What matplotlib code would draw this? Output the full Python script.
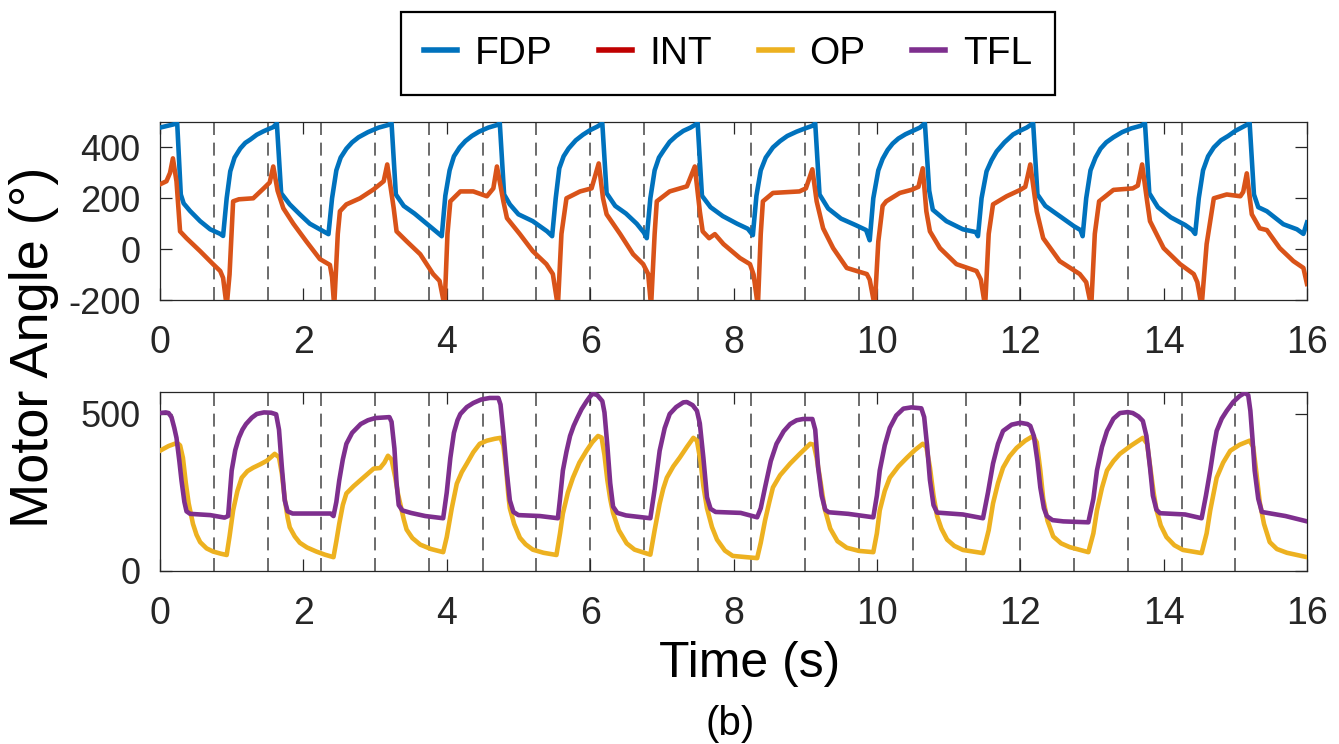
import matplotlib
matplotlib.use('Agg')
import matplotlib.pyplot as plt
from matplotlib.lines import Line2D

plt.rcParams['font.family'] = ['Liberation Sans', 'DejaVu Sans']
plt.rcParams['axes.unicode_minus'] = False

# ---------------- data ----------------
fdp_t = [0.00, 0.18, 0.24, 0.29, 0.33, 0.42, 0.56, 0.70, 0.84, 0.88,
         0.93, 0.98, 1.04, 1.12, 1.19, 1.26, 1.35, 1.44, 1.52, 1.58, 1.63,
         1.69, 1.81, 1.95, 2.09, 2.23, 2.35,
         2.40, 2.46, 2.52, 2.60, 2.68, 2.77, 2.90, 3.05, 3.18, 3.23,
         3.29, 3.40, 3.55, 3.70, 3.85, 3.93,
         3.98, 4.04, 4.10, 4.18, 4.26, 4.35, 4.45, 4.58, 4.70, 4.74,
         4.80, 4.88, 5.00, 5.20, 5.40, 5.47,
         5.52, 5.57, 5.63, 5.70, 5.80, 5.90, 6.00, 6.10, 6.17,
         6.23, 6.35, 6.50, 6.65, 6.75, 6.79,
         6.84, 6.90, 6.96, 7.03, 7.11, 7.20, 7.30, 7.40, 7.50,
         7.56, 7.68, 7.85, 8.05, 8.20, 8.27,
         8.32, 8.38, 8.45, 8.55, 8.65, 8.75, 8.88, 9.00, 9.10, 9.14,
         9.20, 9.32, 9.50, 9.70, 9.85, 9.90,
         9.95, 10.02, 10.08, 10.15, 10.22, 10.30, 10.40, 10.50, 10.60, 10.67,
         10.73, 10.78, 10.97, 11.20, 11.38, 11.41,
         11.46, 11.53, 11.60, 11.67, 11.78, 11.90, 12.00, 12.09, 12.18,
         12.24, 12.35, 12.55, 12.75, 12.84, 12.87,
         12.92, 12.98, 13.05, 13.12, 13.20, 13.30, 13.42, 13.55, 13.68, 13.74,
         13.80, 13.92, 14.10, 14.30, 14.40, 14.44,
         14.49, 14.55, 14.62, 14.70, 14.80, 14.90, 15.00, 15.10, 15.20,
         15.26, 15.32, 15.44, 15.67, 15.86, 15.95, 16.00]
fdp_v = [478, 490, 495, 215, 180, 150, 110, 78, 60, 52,
         200, 306, 360, 396, 418, 431, 450, 463, 473, 480, 495,
         220, 176, 137, 100, 78, 59,
         200, 310, 360, 395, 420, 440, 460, 478, 488, 495,
         215, 170, 140, 105, 70, 51,
         210, 310, 365, 400, 425, 445, 462, 478, 488, 495,
         215, 176, 137, 110, 70, 51,
         200, 318, 365, 396, 428, 450, 468, 482, 495,
         220, 170, 140, 100, 65, 43,
         200, 310, 360, 390, 422, 445, 465, 478, 495,
         210, 165, 130, 100, 80, 55,
         210, 310, 360, 400, 425, 445, 462, 475, 485, 495,
         215, 160, 120, 95, 75, 35,
         200, 310, 355, 390, 415, 435, 452, 465, 478, 495,
         230, 155, 110, 78, 67, 51,
         200, 306, 350, 384, 420, 451, 466, 478, 495,
         215, 170, 130, 90, 75, 51,
         200, 310, 360, 395, 420, 440, 460, 475, 485, 495,
         220, 165, 125, 95, 75, 60,
         200, 310, 365, 400, 428, 445, 465, 480, 495,
         215, 165, 149, 98, 78, 60, 105]

int_t = [0.00, 0.09, 0.14, 0.18, 0.23, 0.28, 0.37, 0.56, 0.74, 0.84, 0.88, 0.93, 0.97,
         1.02, 1.10, 1.30, 1.45, 1.53, 1.58, 1.64, 1.72, 1.86, 2.04, 2.23, 2.37, 2.40, 2.43,
         2.48, 2.51, 2.60, 2.79, 2.98, 3.12, 3.17, 3.26, 3.30, 3.44, 3.63, 3.81, 3.90, 3.97,
         4.01, 4.05, 4.19, 4.37, 4.56, 4.65, 4.70, 4.79, 4.84, 5.02, 5.20, 5.39, 5.48, 5.55,
         5.60, 5.67, 5.86, 6.02, 6.12, 6.18, 6.23, 6.42, 6.60, 6.74, 6.81, 6.85,
         6.90, 6.93, 7.11, 7.35, 7.46, 7.53, 7.57, 7.66, 7.74, 7.86, 8.09, 8.23, 8.28, 8.34,
         8.38, 8.41, 8.55, 8.92, 9.01, 9.10, 9.16, 9.25, 9.39, 9.58, 9.86, 9.90, 9.97,
         10.02, 10.08, 10.13, 10.32, 10.48, 10.58, 10.64, 10.69, 10.74, 10.88, 11.11, 11.39, 11.45, 11.51,
         11.56, 11.62, 11.81, 12.00, 12.07, 12.14, 12.23, 12.32, 12.55, 12.83, 12.92, 12.99,
         13.04, 13.10, 13.30, 13.57, 13.64, 13.70, 13.77, 13.81, 14.00, 14.23, 14.42, 14.47, 14.53,
         14.60, 14.65, 14.70, 14.88, 15.07, 15.11, 15.16, 15.23, 15.34, 15.44, 15.62, 15.81, 15.95, 16.00]
int_v = [255, 267, 300, 357, 267, 70, 43, -8, -59, -86, -113, -225, -100,
         188, 196, 200, 240, 262, 325, 230, 161, 100, 31, -39, -62, -110, -225,
         60, 149, 176, 200, 235, 267, 333, 161, 70, 31, -20, -98, -125, -225,
         60, 188, 227, 227, 208, 239, 325, 188, 122, 59, -8, -59, -98, -225,
         60, 200, 227, 239, 337, 200, 137, 59, -20, -59, -98, -225,
         60, 188, 227, 247, 325, 149, 70, 43, 59, 20, -35, -59, -100, -225,
         60, 188, 221, 227, 239, 314, 188, 82, 4, -74, -98, -120, -225,
         30, 170, 188, 221, 233, 245, 318, 149, 70, 4, -59, -86, -120, -225,
         60, 176, 208, 233, 245, 333, 149, 43, -47, -98, -130, -225,
         60, 188, 233, 239, 250, 333, 188, 110, 4, -59, -98, -130, -225,
         20, 110, 200, 215, 208, 225, 298, 137, 82, 75, 4, -47, -74, -137]

op_t = [0.00, 0.12, 0.24, 0.28, 0.32, 0.36, 0.40, 0.46, 0.51, 0.56, 0.65, 0.74, 0.85, 0.93,
        0.97, 1.02, 1.08, 1.14, 1.22, 1.30, 1.40, 1.49, 1.60, 1.66, 1.70, 1.74, 1.78, 1.81,
        1.88, 1.95, 2.05, 2.18, 2.30, 2.42,
        2.46, 2.50, 2.55, 2.60, 2.70, 2.79, 2.90, 2.98, 3.07, 3.13, 3.18, 3.23, 3.28, 3.32,
        3.35, 3.40, 3.44, 3.52, 3.63, 3.78, 3.95,
        4.00, 4.07, 4.14, 4.21, 4.28, 4.37, 4.46, 4.56, 4.67, 4.75, 4.79, 4.83, 4.86, 4.88,
        4.94, 5.02, 5.10, 5.20, 5.35, 5.53,
        5.58, 5.62, 5.69, 5.76, 5.85, 5.95, 6.03, 6.11, 6.16, 6.20, 6.24, 6.28, 6.32,
        6.40, 6.51, 6.62, 6.84,
        6.90, 6.97, 7.02, 7.07, 7.16, 7.25, 7.35, 7.44, 7.49, 7.54, 7.58, 7.63,
        7.70, 7.77, 7.88, 7.99, 8.33,
        8.38, 8.44, 8.50, 8.55, 8.65, 8.79, 8.92, 9.07, 9.12, 9.16, 9.21, 9.27,
        9.35, 9.45, 9.58, 9.75, 9.95,
        10.00, 10.04, 10.11, 10.18, 10.30, 10.42, 10.53, 10.64, 10.69, 10.74, 10.79, 10.84,
        10.90, 10.98, 11.08, 11.20, 11.48,
        11.56, 11.62, 11.69, 11.76, 11.85, 11.95, 12.07, 12.18, 12.23, 12.28, 12.32,
        12.38, 12.46, 12.57, 12.69, 12.95,
        13.02, 13.07, 13.14, 13.21, 13.30, 13.39, 13.55, 13.71, 13.77, 13.82, 13.86, 13.90,
        13.96, 14.04, 14.15, 14.27, 14.53,
        14.60, 14.65, 14.70, 14.74, 14.83, 14.93, 15.06, 15.20, 15.25, 15.29, 15.34,
        15.40, 15.48, 15.58, 15.72, 16.00]
op_v = [383, 398, 408, 400, 360, 280, 215, 150, 115, 92, 72, 62, 55, 51,
        110, 193, 255, 297, 318, 329, 340, 351, 373, 362, 310, 230, 170, 139,
        110, 90, 75, 62, 52, 44,
        95, 150, 210, 247, 270, 288, 310, 326, 328, 345, 367, 355, 300, 245,
        215, 165, 132, 105, 84, 70, 60,
        108, 200, 278, 315, 342, 378, 405, 415, 421, 424, 400, 320, 240, 200,
        150, 106, 85, 68, 58, 51,
        120, 183, 250, 297, 345, 383, 410, 430, 425, 370, 290, 230, 185,
        130, 88, 68, 52,
        130, 215, 262, 297, 333, 361, 395, 424, 415, 350, 270, 200,
        140, 100, 65, 48, 41,
        90, 161, 220, 266, 305, 342, 372, 405, 402, 360, 290, 200,
        135, 95, 74, 64, 60,
        120, 193, 255, 297, 333, 361, 385, 405, 395, 330, 240, 175,
        135, 100, 80, 67, 57,
        130, 215, 280, 329, 365, 392, 415, 430, 410, 320, 230,
        160, 110, 88, 76, 60,
        120, 193, 265, 320, 350, 373, 400, 424, 405, 320, 250, 195,
        145, 108, 82, 67, 57,
        120, 193, 250, 297, 345, 383, 402, 415, 395, 320, 220,
        150, 92, 70, 58, 44]

tfl_t = [0.00, 0.08, 0.12, 0.16, 0.20, 0.23, 0.27, 0.30, 0.34, 0.37, 0.42, 0.70, 0.90, 0.95,
         1.00, 1.05, 1.10, 1.15, 1.20, 1.28, 1.35, 1.45, 1.55, 1.62, 1.66, 1.70, 1.74, 1.78, 1.85,
         2.38, 2.42, 2.46, 2.50, 2.55, 2.60, 2.68, 2.80, 2.90, 3.00, 3.20, 3.23, 3.27, 3.30, 3.33, 3.38,
         3.50, 3.70, 3.95,
         4.00, 4.05, 4.10, 4.15, 4.19, 4.28, 4.37, 4.48, 4.60, 4.72, 4.75, 4.79, 4.84, 4.88, 4.93, 5.00,
         5.30, 5.55,
         5.58, 5.62, 5.67, 5.72, 5.77, 5.82, 5.88, 5.95, 6.00, 6.04, 6.10, 6.17, 6.20, 6.24, 6.28, 6.32, 6.38,
         6.50, 6.84,
         6.90, 6.97, 7.04, 7.11, 7.20, 7.30, 7.35, 7.43, 7.49, 7.53, 7.58, 7.63, 7.68, 7.75,
         8.10, 8.33,
         8.38, 8.44, 8.52, 8.60, 8.70, 8.79, 8.88, 8.97, 9.10, 9.14, 9.18, 9.23, 9.28, 9.33,
         9.60, 9.95,
         10.00, 10.04, 10.11, 10.18, 10.27, 10.37, 10.48, 10.62, 10.66, 10.70, 10.74, 10.79, 10.84,
         11.20, 11.48,
         11.55, 11.62, 11.69, 11.76, 11.88, 12.00, 12.10, 12.14, 12.19, 12.24, 12.28, 12.33, 12.37, 12.45,
         12.60, 12.95,
         13.02, 13.07, 13.14, 13.21, 13.30, 13.39, 13.50, 13.57, 13.65, 13.71, 13.76, 13.81, 13.85, 13.90, 13.95,
         14.30, 14.53,
         14.59, 14.65, 14.70, 14.74, 14.81, 14.88, 14.97, 15.06, 15.13, 15.18, 15.21, 15.24, 15.27, 15.32, 15.37,
         15.70, 16.00]
tfl_v = [503, 505, 503, 490, 455, 424, 350, 288, 220, 190, 182, 178, 170, 175,
         320, 385, 424, 450, 468, 488, 500, 505, 504, 499, 450, 330, 225, 190, 183,
         183, 175, 220, 288, 355, 405, 440, 468, 480, 487, 490, 475, 390, 280, 210, 193,
         185, 175, 168,
         250, 360, 440, 480, 500, 522, 535, 546, 551, 551, 530, 440, 310, 225, 188, 178,
         175, 168,
         230, 320, 380, 430, 462, 487, 515, 540, 556, 565, 560, 541, 505, 400, 280, 205, 185,
         177, 168,
         260, 383, 455, 500, 522, 537, 538, 528, 510, 470, 360, 235, 198, 188,
         185, 171,
         200, 266, 350, 405, 445, 468, 480, 484, 484, 450, 330, 240, 195, 187,
         182, 171,
         240, 320, 400, 456, 495, 517, 521, 518, 490, 400, 290, 210, 186,
         180, 168,
         250, 342, 405, 446, 466, 472, 468, 462, 430, 350, 266, 200, 175, 162,
         158, 155,
         230, 320, 395, 446, 485, 503, 506, 503, 492, 478, 430, 330, 240, 195, 184,
         180, 168,
         240, 320, 395, 446, 485, 510, 538, 557, 567, 560, 510, 420, 320, 230, 188,
         175, 158]

dash_times = [0.75, 1.5, 2.25, 3.0, 3.75, 4.5, 5.25, 6.0, 6.75, 7.5,
              8.25, 9.0, 9.75, 10.5, 11.25, 12.0, 12.75, 13.5, 14.25, 15.0]

series_names = ['FDP', 'INT', 'OP', 'TFL']
x_ticks = [0, 2, 4, 6, 8, 10, 12, 14, 16]
top_yticks = [-200, 0, 200, 400]
bot_yticks = [0, 500]

C_FDP = '#0072BD'
C_INT = '#D95319'
C_INT_LEG = '#C00000'
C_OP = '#EDB120'
C_TFL = '#7E2F8E'
TICK_C = '#262626'

# ---------------- figure ----------------
fig = plt.figure(figsize=(13.39, 7.44), dpi=100)
L = 160 / 1339
W = 1147 / 1339
ax1 = fig.add_axes([L, 1 - 300 / 744, W, 178 / 744])
ax2 = fig.add_axes([L, 1 - 571 / 744, W, 179 / 744])

for ax in (ax1, ax2):
    for t in dash_times:
        ax.axvline(t, color='#444444', lw=1.1, dashes=(8.5, 5.0), zorder=1)

lw = 3.3
ax1.plot(fdp_t, fdp_v, color=C_FDP, lw=lw, zorder=3, solid_joinstyle='round')
ax1.plot(int_t, int_v, color=C_INT, lw=lw, zorder=4, solid_joinstyle='round')
ax2.plot(op_t, op_v, color=C_OP, lw=lw, zorder=3, solid_joinstyle='round')
ax2.plot(tfl_t, tfl_v, color=C_TFL, lw=lw, zorder=4, solid_joinstyle='round')

ax1.set_ylim(-200, 500)
ax2.set_ylim(0, 570)
ax1.set_yticks(top_yticks)
ax2.set_yticks(bot_yticks)

for ax in (ax1, ax2):
    ax.set_xlim(0, 16)
    ax.set_xticks(x_ticks)
    ax.tick_params(axis='both', direction='in', length=8.5, width=0.9,
                   top=True, right=True, colors=TICK_C)
    ax.tick_params(axis='x', labelsize=27, pad=18)
    ax.tick_params(axis='y', labelsize=26, pad=14)
    for s in ax.spines.values():
        s.set_color(TICK_C)
        s.set_linewidth(0.9)

fig.text(34 / 1339, 1 - 347 / 744, 'Motor Angle (°)', rotation=90,
         ha='center', va='center', fontsize=39, color='black')
fig.text(750 / 1339, 1 - 677 / 744, 'Time (s)', ha='center', va='baseline',
         fontsize=36, color='black')
fig.text(730 / 1339, 1 - 735 / 744, '(b)', ha='center', va='baseline',
         fontsize=29, color='black')

handles = [Line2D([], [], color=c, lw=4.0) for c in (C_FDP, C_INT_LEG, C_OP, C_TFL)]
leg = fig.legend(handles, series_names, loc='center',
                 bbox_to_anchor=(728 / 1339, 1 - 53.5 / 744), ncol=4,
                 frameon=True, fancybox=False, edgecolor='black', framealpha=1,
                 fontsize=28, handlelength=0.85, handletextpad=0.45,
                 columnspacing=1.2, borderpad=0.6)
leg.get_frame().set_linewidth(1.6)

fig.savefig('out.png', dpi=100)
